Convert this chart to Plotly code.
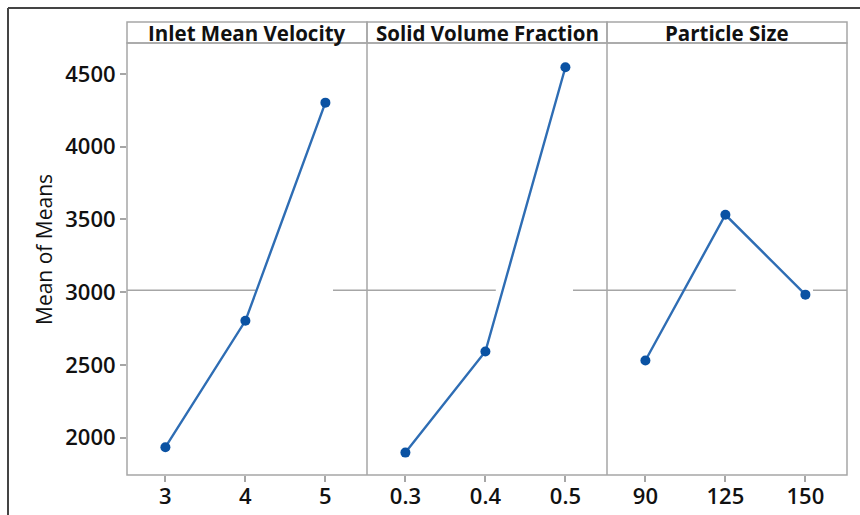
import plotly.graph_objects as go

# Factor names and their levels
factors = ["Inlet Mean Velocity", "Solid Volume Fraction", "Particle Size"]
velocity_levels = ["3", "4", "5"]
fraction_levels = ["0.3", "0.4", "0.5"]
size_levels = ["90", "125", "150"]

# Mean of means at each factor level
velocity_means = [1934, 2803, 4303]
fraction_means = [1897, 2592, 4546]
size_means = [2530, 3532, 2983]

levels = [velocity_levels, fraction_levels, size_levels]
means = [velocity_means, fraction_means, size_means]
grand_mean = sum(sum(m) for m in means) / sum(len(m) for m in means)

W, H = 860, 515
LINE = "#2e6db4"
MARK = "#0a52a3"
GRID = "#a6a6a6"
FONT = "Open Sans"
TXT = "#111111"

# pixel layout of the panels
left, right = 127, 847
top_plot, bottom_plot = 43, 475
header_top = 22
panel_w = (right - left) / 3
xr = [-0.48, 2.52]
yr = [1743, 4713]

def px(x):
    return x / W

def py(y):
    return 1 - y / H

fig = go.Figure()
shapes = []
annotations = []

for i in range(3):
    xa = "x" if i == 0 else f"x{i+1}"
    ya = "y" if i == 0 else f"y{i+1}"
    xs = list(range(len(levels[i])))
    fig.add_trace(go.Scatter(
        x=xs, y=means[i], xaxis=xa, yaxis=ya, mode="lines+markers",
        line=dict(color=LINE, width=2.4),
        marker=dict(color=MARK, size=10),
        showlegend=False, hoverinfo="skip",
    ))
    x0 = left + i * panel_w
    x1 = x0 + panel_w
    ax_key = "xaxis" if i == 0 else f"xaxis{i+1}"
    ay_key = "yaxis" if i == 0 else f"yaxis{i+1}"
    fig.layout[ax_key] = dict(
        domain=[px(x0), px(x1)], range=xr, anchor=ya,
        tickmode="array", tickvals=xs, ticktext=levels[i],
        ticks="outside", ticklen=6, tickcolor=GRID, tickwidth=1.5,
        ticklabelstandoff=-4,
        showline=False, showgrid=False, zeroline=False,
        tickfont=dict(family=FONT, size=22, color=TXT, weight=600),
        fixedrange=True,
    )
    fig.layout[ay_key] = dict(
        domain=[py(bottom_plot), py(top_plot)], range=yr, anchor=xa,
        showline=False, showgrid=False, zeroline=False,
        showticklabels=(i == 0),
        ticks="outside" if i == 0 else "", ticklen=6, tickcolor=GRID, tickwidth=1.5,
        tickvals=[2000, 2500, 3000, 3500, 4000, 4500],
        tickfont=dict(family=FONT, size=22, color=TXT, weight=600),
        fixedrange=True,
    )
    # grand-mean reference line (drawn in two pieces per panel)
    for seg in [(xr[0], 1.13), (2.095, xr[1])]:
        shapes.append(dict(type="line", xref=xa, yref=ya, x0=seg[0], x1=seg[1],
                           y0=grand_mean, y1=grand_mean,
                           line=dict(color=GRID, width=1.5), layer="below"))
    # header strip
    shapes.append(dict(type="rect", xref="paper", yref="paper",
                       x0=px(x0), x1=px(x1), y0=py(top_plot), y1=py(header_top),
                       line=dict(color=GRID, width=1.5)))
    annotations.append(dict(xref="paper", yref="paper", x=px((x0 + x1) / 2),
                            y=py((header_top + top_plot) / 2 + 0.5), text=factors[i],
                            showarrow=False, xanchor="center", yanchor="middle",
                            font=dict(family=FONT, size=20.5, color=TXT, weight=700)))
    # panel divider
    if i > 0:
        shapes.append(dict(type="line", xref="paper", yref="paper",
                           x0=px(x0), x1=px(x0), y0=py(bottom_plot), y1=py(top_plot),
                           line=dict(color=GRID, width=1.5)))

# frame around the plotting area
shapes.append(dict(type="rect", xref="paper", yref="paper",
                   x0=px(left), x1=px(right), y0=py(bottom_plot), y1=py(top_plot),
                   line=dict(color=GRID, width=1.5)))

# axis title
annotations.append(dict(xref="paper", yref="paper", x=px(44), y=py(250),
                        text="Mean of Means", textangle=-90, showarrow=False,
                        xanchor="center", yanchor="middle",
                        font=dict(family=FONT, size=21, color=TXT, weight=500)))

# outer frame (top and left edges)
shapes.append(dict(type="line", xref="paper", yref="paper", x0=px(8), x1=1,
                   y0=py(8), y1=py(8), line=dict(color="#444", width=2)))
shapes.append(dict(type="line", xref="paper", yref="paper", x0=px(8), x1=px(8),
                   y0=py(8), y1=0, line=dict(color="#444", width=2)))

fig.update_layout(
    width=W, height=H, margin=dict(l=0, r=0, t=0, b=0),
    paper_bgcolor="white", plot_bgcolor="white",
    shapes=shapes, annotations=annotations,
)

fig.write_html("out.html")
